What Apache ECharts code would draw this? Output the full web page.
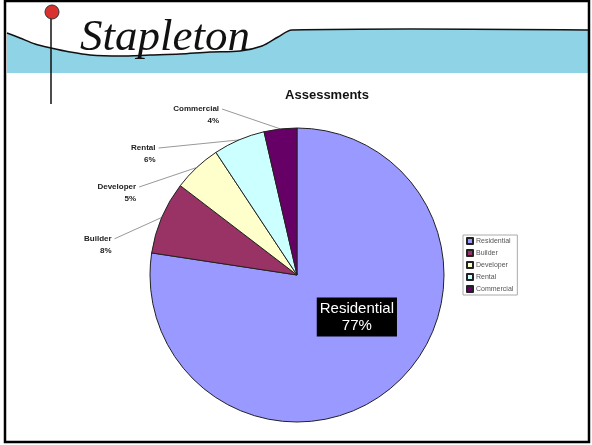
<!DOCTYPE html>
<html><head><meta charset="utf-8">
<script src="https://cdn.jsdelivr.net/npm/echarts@6/dist/echarts.min.js"></script>
<style>html,body{margin:0;padding:0;background:#fff}#c{width:592px;height:445px}</style>
</head><body><div id="c"></div>
<script>
const categories = ['Residential','Builder','Developer','Rental','Commercial'];
const values = [77.4, 8.0, 5.3, 5.7, 3.6];
const colors = ['#9999FF','#993366','#FFFFCC','#CCFFFF','#660066'];
const chartTitle = 'Assessments';
const logoText = 'Stapleton';
// label nudges (dx, dy) per slice, for text placement only
const labelShift = [[0,0],[-11,32],[-14,24],[-24,11],[-27,-2]];

const chart = echarts.init(document.getElementById('c'), null, {renderer:'canvas'});
const data = categories.map((n,i)=>{
  const d = {name:n, value:values[i], itemStyle:{color:colors[i]}};
  if(i===0){
    d.label = {position:'inside', backgroundColor:'#000', color:'#fff', fontSize:15, fontWeight:'normal',
      fontFamily:'Liberation Sans, Arial', padding:[3,3,2,3], lineHeight:17, offset:[10,-16]};
    d.labelLine = {show:false};
  }
  return d;
});
chart.setOption({
  animation:false,
  backgroundColor:'#fff',
  title:{text:chartTitle, left:322, top:84, textAlign:'center',
    textStyle:{fontSize:13, fontWeight:'bold', color:'#111', fontFamily:'Liberation Sans, Arial'}},
  legend:{orient:'vertical', left:463, top:235, itemWidth:6, itemHeight:6, itemGap:4,
    icon:'rect', padding:[2,4,2,3], borderColor:'#aaa', borderWidth:1,
    textStyle:{fontSize:7, color:'#555', fontFamily:'Liberation Sans, Arial', padding:[0,0,0,-2]},
    data:categories},
  graphic:[
    {type:'polygon', z:-1, shape:{points:[[7,33],[20,38],[35,44],[51,48],[70,52],[90,55],[120,56],[150,55],[180,54],[210,52],[240,51],[262,46],[278,37],[292,30],[588,30],[588,73],[7,73]]},
      style:{fill:'#8ED3E6'}},
    {type:'polyline', shape:{points:[[7,33],[20,38],[35,44],[51,48],[70,52],[90,55],[120,56],[150,55],[180,54],[210,52],[240,51],[262,46],[278,37],[292,30],[588,30]], smooth:0.3},
      style:{stroke:'#111', lineWidth:1.5, fill:null}},
    {type:'line', shape:{x1:51, y1:18, x2:51, y2:104}, style:{stroke:'#111', lineWidth:1.5}},
    {type:'circle', shape:{cx:52, cy:12, r:7}, style:{fill:'#D93030', stroke:'#333', lineWidth:1}},
    {type:'text', left:80, top:16, style:{text:logoText, font:'italic 45px "Liberation Serif", serif', fill:'#111'}},
    {type:'rect', shape:{x:5, y:1, width:584, height:441}, style:{fill:null, stroke:'#000', lineWidth:2.5}}
  ],
  series:[{
    type:'pie', center:[297,275], radius:147, startAngle:90, clockwise:true,
    percentPrecision:0, data:data,
    itemStyle:{borderColor:'#222', borderWidth:1},
    label:{show:true, position:'outside', formatter:'{b}\n{d}%', fontSize:8, fontWeight:'bold',
      color:'#222', fontFamily:'Liberation Sans, Arial', align:'center', lineHeight:12},
    labelLine:{show:true, length:12, length2:28, lineStyle:{color:'#999', width:1}},
    labelLayout:function(p){
      const s = labelShift[p.dataIndex];
      const out = {dx:s[0], dy:s[1]};
      if(p.labelLinePoints && p.dataIndex>0){
        const r = p.labelRect;
        const start = p.labelLinePoints[0];
        out.labelLinePoints = [start, [r.x + r.width + s[0] + 3, r.y + s[1] + 6]];
      }
      return out;
    },
    emphasis:{disabled:true}
  }]
});
</script></body></html>
